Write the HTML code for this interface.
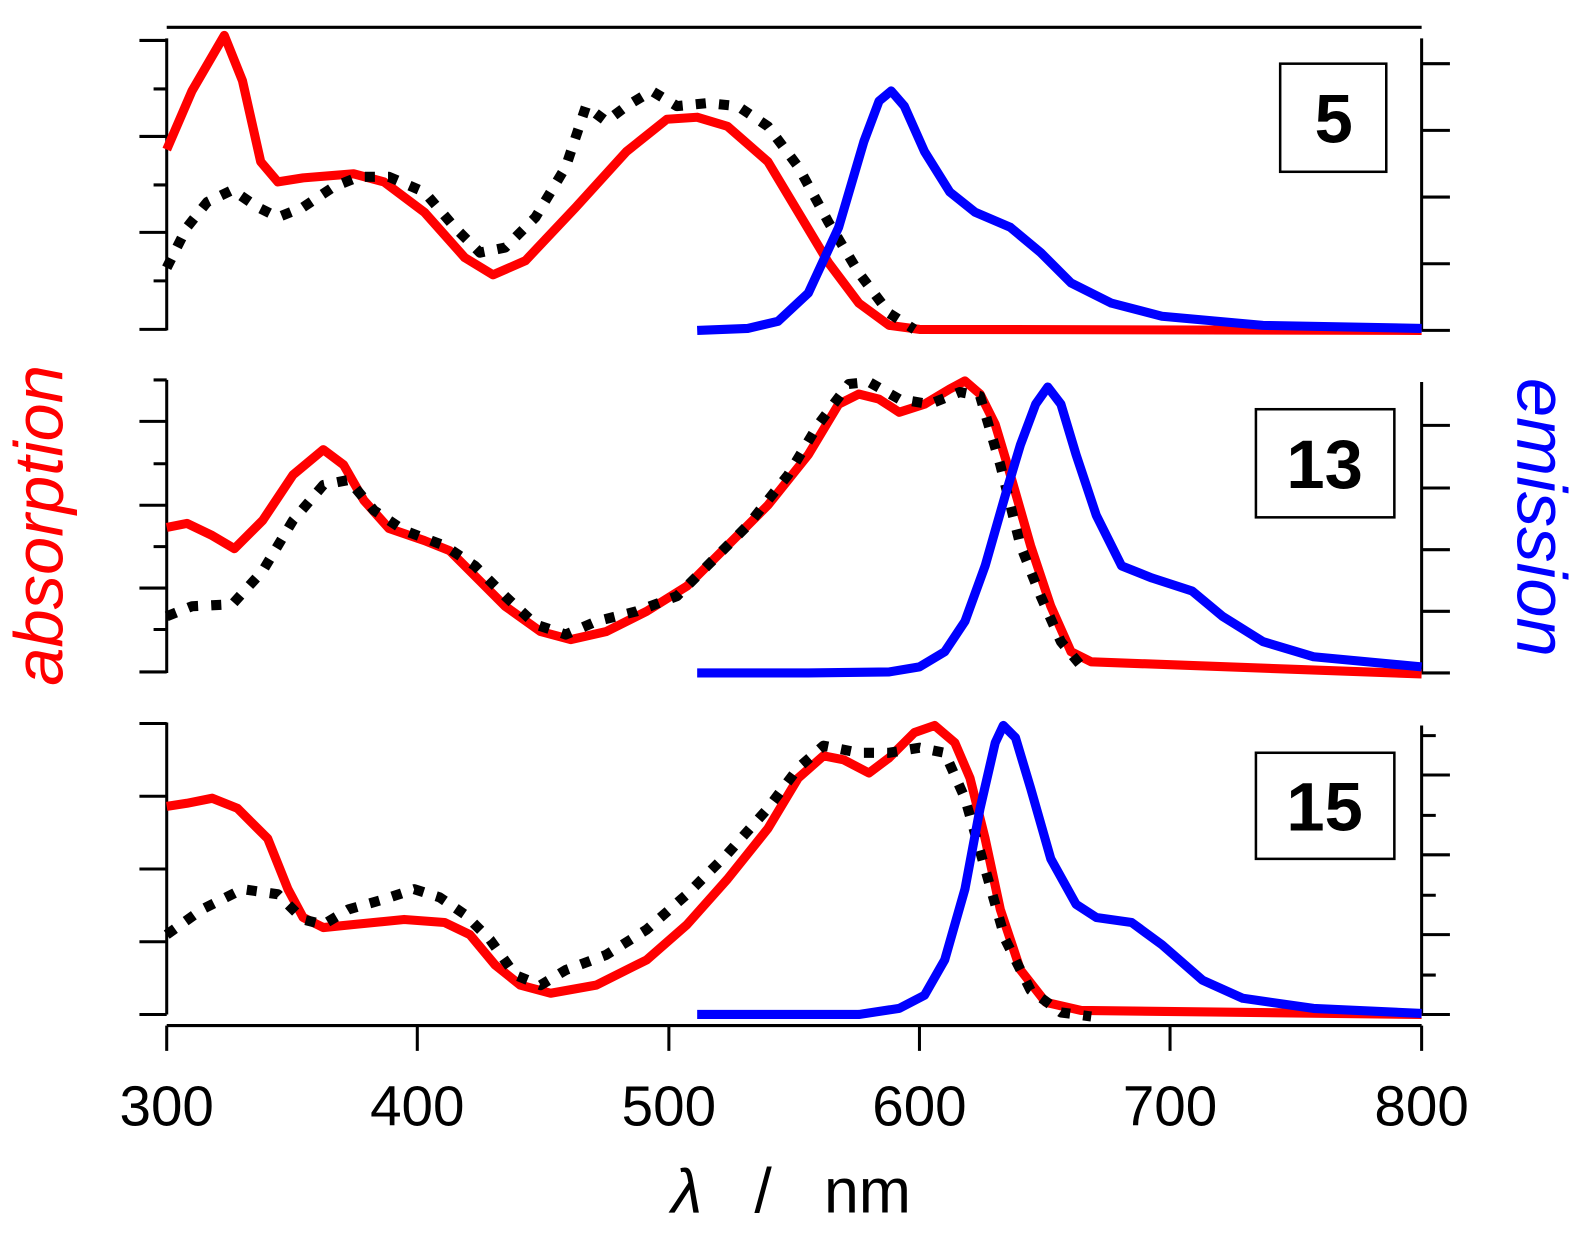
<!DOCTYPE html>
<html><head><meta charset="utf-8"><style>html,body{margin:0;padding:0;background:#fff}svg{display:block}</style></head><body>
<svg width="1584" height="1240" viewBox="0 0 1567.7 1227.2" xmlns="http://www.w3.org/2000/svg">
<g stroke="#000" stroke-width="3" fill="none">
<line x1="165" y1="27" x2="1407" y2="27"/>
<line x1="165" y1="38" x2="165" y2="327"/>
<line x1="165" y1="376" x2="165" y2="666"/>
<line x1="165" y1="715" x2="165" y2="1004"/>
<line x1="1407" y1="38" x2="1407" y2="327"/>
<line x1="1407" y1="378" x2="1407" y2="666"/>
<line x1="1407" y1="718" x2="1407" y2="1004"/>
<line x1="165" y1="1015" x2="1407" y2="1015"/>
<path d="M138 40H165M152 88H165M138 135H165M152 183H165M138 230H165M152 278H165M138 326H165"/>
<path d="M152 376H165M138 417H165M152 459H165M138 500H165M152 541H165M138 582H165M152 623H165M138 665H165"/>
<path d="M138 716H165M138 788H165M138 860H165M138 932H165M138 1004H165"/>
<path d="M1407 63H1435M1407 129H1435M1407 195H1435M1407 261H1435M1407 327H1435"/>
<path d="M1407 421H1435M1407 483H1435M1407 544H1435M1407 605H1435M1407 666H1435"/>
<path d="M1407 728H1421M1407 767H1435M1407 807H1421M1407 846H1435M1407 886H1421M1407 925H1435M1407 965H1421M1407 1004H1435"/>
<path d="M165 1015V1040M413 1015V1040M662 1015V1040M910 1015V1040M1158 1015V1040M1407 1015V1040"/>
<rect x="1267" y="63" width="105" height="107" stroke-width="2.5"/>
<rect x="1243" y="405" width="137" height="107" stroke-width="2.5"/>
<rect x="1243" y="745" width="137" height="105" stroke-width="2.5"/>
</g>
<g fill="none" stroke-linejoin="round" stroke-linecap="butt">
<polyline stroke="#f00" stroke-width="9" points="165,148 190,90 222,35 240,80 258,160 275,180 300,176 350,172 380,180 420,210 460,255 488,272 520,258 570,205 620,150 660,118 690,116 720,125 760,160 790,210 820,260 850,300 880,322 910,326 1407,327"/>
<polyline stroke="#000" stroke-width="10" stroke-dasharray="10 13" points="165,265 185,225 205,200 230,188 255,205 275,215 300,205 330,185 355,175 385,175 420,190 450,225 475,250 500,245 530,215 560,165 580,105 600,120 620,105 645,90 670,105 700,102 730,105 760,125 790,165 820,220 850,270 880,310 905,326"/>
<polyline stroke="#00f" stroke-width="9" points="690,327 740,325 770,318 800,290 830,225 855,140 870,100 882,90 895,105 915,150 940,190 965,210 1000,225 1030,250 1060,280 1100,300 1150,313 1250,322 1407,325"/>
<polyline stroke="#f00" stroke-width="9" points="165,522 185,518 210,530 232,543 260,515 290,470 320,445 340,460 360,495 385,523 420,535 445,545 470,570 500,600 535,625 565,633 600,625 640,605 680,580 720,540 760,500 800,450 830,400 850,390 870,395 890,408 915,400 940,385 955,377 970,390 985,420 1000,470 1020,540 1040,600 1060,645 1080,655 1407,667"/>
<polyline stroke="#000" stroke-width="10" stroke-dasharray="10 13" points="165,610 190,600 230,598 260,565 290,515 320,480 345,475 370,505 400,525 440,540 470,560 500,590 530,618 560,628 590,615 630,605 670,590 700,560 740,520 780,470 810,420 840,380 860,378 890,395 920,400 950,388 970,392 990,460 1010,540 1030,590 1050,635 1075,665"/>
<polyline stroke="#00f" stroke-width="9" points="690,666 800,666 880,665 910,660 935,645 955,615 975,560 995,490 1010,440 1025,400 1037,383 1050,400 1065,450 1085,510 1110,560 1140,572 1180,585 1210,610 1250,635 1300,650 1407,660"/>
<polyline stroke="#f00" stroke-width="9" points="165,798 185,795 210,790 235,800 265,830 285,880 300,908 320,918 350,915 400,910 440,913 465,925 490,955 515,975 545,983 590,975 640,950 680,915 720,870 760,820 790,770 815,748 835,752 860,765 880,750 905,725 925,718 945,735 960,770 975,830 990,900 1010,960 1035,992 1070,1000 1407,1004"/>
<polyline stroke="#000" stroke-width="10" stroke-dasharray="10 13" points="165,925 200,900 240,880 275,885 300,910 320,915 345,900 380,890 410,880 435,888 460,905 485,930 510,965 535,975 560,960 600,945 640,920 680,885 720,845 760,800 790,760 815,738 850,745 880,745 910,740 935,745 955,790 975,860 995,930 1020,980 1050,1002 1080,1006"/>
<polyline stroke="#00f" stroke-width="9" points="690,1004 850,1004 890,998 915,985 935,950 955,880 970,800 985,735 993,718 1005,730 1020,780 1040,850 1065,895 1085,908 1120,913 1150,935 1190,970 1230,988 1300,998 1407,1003"/>
</g>
<g font-family="Liberation Sans, sans-serif">
<g font-size="56" text-anchor="middle" fill="#000">
<text x="165" y="1114">300</text><text x="413" y="1114">400</text><text x="662" y="1114">500</text><text x="910" y="1114">600</text><text x="1158" y="1114">700</text><text x="1407" y="1114">800</text>
</g>
<text x="783" y="1200" font-size="62" text-anchor="middle" xml:space="preserve"><tspan font-style="italic">λ</tspan>   /   nm</text>
<g font-size="68" font-weight="bold" text-anchor="middle">
<text x="1320" y="141">5</text><text x="1311" y="483">13</text><text x="1311" y="822">15</text>
</g>
<text transform="translate(62,520) rotate(-90)" font-size="68" font-style="italic" fill="#f00" text-anchor="middle">absorption</text>
<text transform="translate(1502,512) rotate(90)" font-size="70" font-style="italic" fill="#00f" text-anchor="middle">emission</text>
</g>
</svg>
</body></html>
